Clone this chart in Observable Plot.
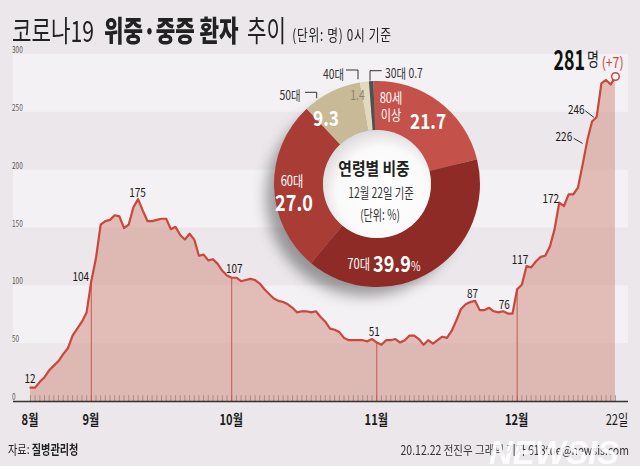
<!DOCTYPE html>
<html><head><meta charset="utf-8">
<script src="https://cdn.jsdelivr.net/npm/d3@7"></script>
<script src="https://cdn.jsdelivr.net/npm/@observablehq/plot@0.6"></script>
<style>
html,body{margin:0;padding:0;background:#fff;}
#card{position:relative;width:640px;height:466px;background:#EBE7EA;font-family:'Noto Sans CJK KR',sans-serif;color:#222;}
#title{position:absolute;left:12px;top:16.5px;width:560px;height:25px;white-space:nowrap;transform:scaleX(0.73);transform-origin:left top;font-size:29px;line-height:25px;font-weight:400;}
#title span{position:absolute;top:0;}
#title .b{font-weight:900;}
#title .sub{font-size:16px;line-height:16px;letter-spacing:1px;top:9.5px;}
#chart{position:absolute;left:0;top:40px;}
#src{position:absolute;left:8px;top:441px;font-size:13px;line-height:16px;white-space:nowrap;transform:scaleX(0.78);transform-origin:left top;}
#src b{font-weight:700;}
#credit{position:absolute;right:11px;top:442px;font-size:12.5px;line-height:16px;white-space:nowrap;transform:scaleX(0.84);transform-origin:right top;color:#333;}
#wm{position:absolute;left:489px;top:435px;font-family:'Liberation Sans',sans-serif;font-size:34px;line-height:34px;font-weight:900;font-style:italic;color:rgba(255,255,255,0.85);white-space:nowrap;transform:scaleX(0.97);transform-origin:left top;}
</style></head>
<body>
<div id="card">
  <div id="title"><span style="left:0">코로나19</span><span class="b" style="left:126px">위중·중증</span><span class="b" style="left:257px">환자</span><span style="left:322px">추이</span><span class="sub" style="left:384px">(단위: 명) 0시 기준</span></div>
  <div id="chart"></div>
  <div id="src">자료: <b>질병관리청</b></div>
  <div id="credit">20.12.22 전진우 그래픽 기자 618tue@newsis.com</div>
  <div id="wm">NEWSIS</div>
</div>
<script>
// ---- data: daily critical patients (0시 기준) ----
const augVals = [12,12,17,21,27,31,35,41,46,57,63,69,77];                 // Aug 19–31
const sepVals = [104,124,153,156,157,161,160,150,153,168,175,165,156,156,157,158,158,149,151,144,140,145,140,126,127,122,123,119,113,109];
const octVals = [107,107,104,105,106,105,102,97,93,89,87,86,84,81,77,78,78,77,78,73,69,63,62,60,55,53,53,53,53,52,54];
const novVals = [51,49,53,53,54,51,53,57,57,54,49,53,50,53,56,55,61,70,80,84,86,87,79,79,81,78,77,78,76,76];
const decVals = [97,101,117,116,121,125,126,134,149,172,169,179,179,185,205,226,242,246,275,278,274,281];
const segmentStarts = ["2020-08-19","2020-09-01","2020-10-01","2020-11-01","2020-12-01"];
const monthRuleDates = ["2020-09-01","2020-10-01","2020-11-01","2020-12-01"];
const xTickDates = ["2020-08-19","2020-09-01","2020-10-01","2020-11-01","2020-12-01","2020-12-22"];
const xTickLabels = ["8월","9월","10월","11월","12월","22일"];
const yTicks = [0,50,100,150,200,250,300];
const lightBands = [[250,300],[150,200],[50,100]];
const calloutDates = ["2020-08-19","2020-09-01","2020-09-11","2020-10-01","2020-11-01","2020-11-22","2020-11-29","2020-12-03","2020-12-10","2020-12-16","2020-12-18"];
const lastChange = "+7";

const ageGroups = ["80세 이상","70대","60대","50대","40대","30대"];
const ageShares = [21.7,39.9,27.0,9.3,1.4,0.7];
const ageColors = ["#C4524A","#8E2B26","#A93D36","#C8B997","#E3D9BD","#505050"];

// ---- build table ----
const parse = d3.utcParse("%Y-%m-%d"), fmt = d3.utcFormat("%Y-%m-%d");
const series = [];
[augVals, sepVals, octVals, novVals, decVals].forEach((vals, k) => {
  const t0 = parse(segmentStarts[k]);
  vals.forEach((v, i) => series.push({date: d3.utcDay.offset(t0, i), value: v}));
});
const byDate = new Map(series.map(d => [fmt(d.date), d]));
const first = series[0], last = series[series.length - 1];
const monthRules = monthRuleDates.map(s => byDate.get(s));
const xDomain = [d3.utcHour.offset(first.date, -87), d3.utcHour.offset(last.date, 67)];

// ---- layout (pixels) ----
const calloutLayout = {
  "2020-08-19": {dx: 0, dy: -10},
  "2020-09-01": {dx: -10, dy: -5},
  "2020-09-11": {dx: 0, dy: -7},
  "2020-10-01": {dx: 3, dy: -9.5},
  "2020-11-01": {dx: -2, dy: -12},
  "2020-11-22": {dx: -2, dy: -8},
  "2020-11-29": {dx: -3, dy: -10},
  "2020-12-03": {dx: -6, dy: -7},
  "2020-12-10": {dx: -8, dy: -5},
  "2020-12-16": {dx: -23, dy: -4.5, leader: [-13, -1.2, -4.3, 3.8]},
  "2020-12-18": {dx: -20, dy: -8, leader: [-11, -5.7, -2.3, 0.9]}
};
const FONT = "'Noto Sans CJK KR', sans-serif";

function addText(g, x, y, txt, o = {}) {
  return g.append("text")
    .attr("transform", `translate(${x},${y}) scale(${o.sx ?? 0.78},1)`)
    .attr("text-anchor", o.anchor ?? "middle")
    .attr("dominant-baseline", "central")
    .attr("font-family", FONT)
    .attr("font-size", o.size ?? 12)
    .attr("font-weight", o.weight ?? 400)
    .attr("fill", o.fill ?? "#222")
    .text(txt);
}

const yLabelMark = (index, scales, values, dim) => {
  const g = d3.create("svg:g");
  yTicks.forEach(v => addText(g, dim.marginLeft - 1, scales.y(v) - 5, v, {anchor: "start", size: 9, sx: 0.72, fill: "#555"}));
  return g.node();
};

const xLabelMark = (index, scales) => {
  const g = d3.create("svg:g");
  xTickDates.forEach((s, i) => {
    const isEnd = i === xTickDates.length - 1;
    addText(g, scales.x(parse(s)) + (isEnd ? 2 : 0), scales.y(0) + 18, xTickLabels[i],
      {size: 15, weight: isEnd ? 400 : 700, sx: 0.74, fill: "#1a1a1a"});
  });
  return g.node();
};

const calloutMark = (index, scales) => {
  const g = d3.create("svg:g");
  calloutDates.forEach(s => {
    const d = byDate.get(s), L = calloutLayout[s];
    const px = scales.x(d.date), py = scales.y(d.value);
    if (L.leader) {
      g.append("line").attr("x1", px + L.leader[0]).attr("y1", py + L.leader[1])
        .attr("x2", px + L.leader[2]).attr("y2", py + L.leader[3])
        .attr("stroke", "#333").attr("stroke-width", 1);
    }
    addText(g, px + L.dx, py + L.dy, d.value, {size: 12.5, sx: 0.8, fill: "#1a1a1a"});
  });
  return g.node();
};

const headlineMark = (index, scales) => {
  const g = d3.create("svg:g");
  const px = scales.x(last.date), py = scales.y(last.value);
  addText(g, px - 30, py - 17.6, last.value, {anchor: "end", size: 27, weight: 700, sx: 0.66, fill: "#111"});
  addText(g, px - 28, py - 17.5, "명", {anchor: "start", size: 18, sx: 0.72, fill: "#222"});
  addText(g, px - 13.3, py - 14.5, `(${lastChange})`, {anchor: "start", size: 15, sx: 0.82, fill: "#C9473C"});
  return g.node();
};

const donutMark = (index, scales, values, dim) => {
  const cx = 377, cy = 144, r0 = 54, r1 = 103;
  const g = d3.create("svg:g").attr("transform", `translate(${cx},${cy})`);
  const defs = g.append("defs");
  defs.append("filter").attr("id", "dshadow").attr("x", "-50%").attr("y", "-50%").attr("width", "200%").attr("height", "200%")
    .append("feGaussianBlur").attr("stdDeviation", 7);
  const rg = defs.append("radialGradient").attr("id", "innerGrad").attr("cx", "55%").attr("cy", "58%").attr("r", "60%");
  rg.append("stop").attr("offset", "0%").attr("stop-color", "#ffffff");
  rg.append("stop").attr("offset", "70%").attr("stop-color", "#fbfafb");
  rg.append("stop").attr("offset", "100%").attr("stop-color", "#dcd8da");
  g.append("circle").attr("cx", -12).attr("cy", 13).attr("r", r1 - 4).attr("fill", "rgba(0,0,0,0.36)").attr("filter", "url(#dshadow)");
  const a0 = -0.035;
  const arcs = d3.pie().sort(null).startAngle(a0).endAngle(2 * Math.PI + a0)(ageShares);
  const arc = d3.arc().innerRadius(r0).outerRadius(r1);
  g.append("g").selectAll("path").data(arcs).join("path").attr("d", arc).attr("fill", (d, i) => ageColors[i]);
  g.append("circle").attr("r", r0).attr("fill", "url(#innerGrad)");
  const W = "#ffffff";
  // segment labels
  addText(g, 14, -87, "80세", {size: 14, sx: 0.8, fill: W});
  addText(g, 14, -70.5, "이상", {size: 14, sx: 0.8, fill: W});
  addText(g, 51, -64, ageShares[0].toFixed(1), {size: 21, weight: 700, sx: 0.82, fill: W});
  addText(g, -7, 79, "70대", {size: 14, sx: 0.8, fill: W, anchor: "end"});
  addText(g, -4, 79, ageShares[1].toFixed(1), {size: 22, weight: 700, sx: 0.82, fill: W, anchor: "start"});
  addText(g, 34, 81, "%", {size: 13, sx: 0.8, fill: W, anchor: "start"});
  addText(g, -85, -4.5, "60대", {size: 14, sx: 0.8, fill: W});
  addText(g, -83, 17.5, ageShares[2].toFixed(1), {size: 22, weight: 700, sx: 0.82, fill: W});
  addText(g, -51, -67, ageShares[3].toFixed(1), {size: 21, weight: 700, sx: 0.82, fill: W});
  addText(g, -19.5, -90.5, ageShares[4].toFixed(1), {size: 13, sx: 0.8, fill: "#8C8373"});
  // outside labels with leaders
  addText(g, -87, -90.5, "50대", {size: 13, sx: 0.8, fill: "#333"});
  addText(g, -43.5, -111.3, "40대", {size: 13, sx: 0.8, fill: "#333"});
  addText(g, 8, -112, `30대 ${ageShares[5].toFixed(1)}`, {size: 13, sx: 0.8, fill: "#333", anchor: "start"});
  const lead = pts => g.append("path").attr("d", d3.line()(pts)).attr("fill", "none").attr("stroke", "#333").attr("stroke-width", 1);
  lead([[-72, -91.7], [-60.3, -91.7], [-60.3, -85.7]]);
  lead([[-31, -114], [-19, -114], [-19, -104.7]]);
  lead([[-7, -103.3], [-7, -113.3], [4.7, -113.3]]);
  // center
  addText(g, -3, -16, "연령별 비중", {size: 17, weight: 700, sx: 0.87, fill: "#222"});
  addText(g, 4, 8, "12월 22일 기준", {size: 14, sx: 0.74, fill: "#333"});
  addText(g, 3, 30, "(단위: %)", {size: 14, sx: 0.72, fill: "#333"});
  return g.node();
};

const chart = Plot.plot({
  width: 640, height: 390,
  marginTop: 14, marginBottom: 29, marginLeft: 13, marginRight: 12,
  x: {type: "utc", domain: xDomain, axis: null},
  y: {domain: [0, 300], axis: null},
  style: {background: "transparent", fontFamily: FONT, overflow: "visible"},
  marks: [
    Plot.rect(lightBands, {y1: d => d[0], y2: d => d[1], fill: "#F3F1F3"}),
    Plot.areaY(series, {x: "date", y: "value", fill: "#D28A7B", fillOpacity: 0.5}),
    Plot.ruleX(series, {x: "date", y1: 0, y2: 5, stroke: "#A07F7A", strokeWidth: 0.8}),
    Plot.ruleX(monthRules, {x: "date", y1: 0, y2: "value", stroke: "#C9473C", strokeWidth: 1, strokeOpacity: 0.85}),
    Plot.lineY(series, {x: "date", y: "value", stroke: "#C9473C", strokeWidth: 2.2, strokeLinejoin: "round"}),
    Plot.ruleY([0], {stroke: "#333", strokeWidth: 1.5}),
    Plot.dot([last], {x: "date", y: "value", r: 3.8, fill: "white", stroke: "#C9473C", strokeWidth: 1.5}),
    yLabelMark, xLabelMark, calloutMark, headlineMark, donutMark
  ]
});
document.getElementById("chart").appendChild(chart);
</script>
</body></html>
